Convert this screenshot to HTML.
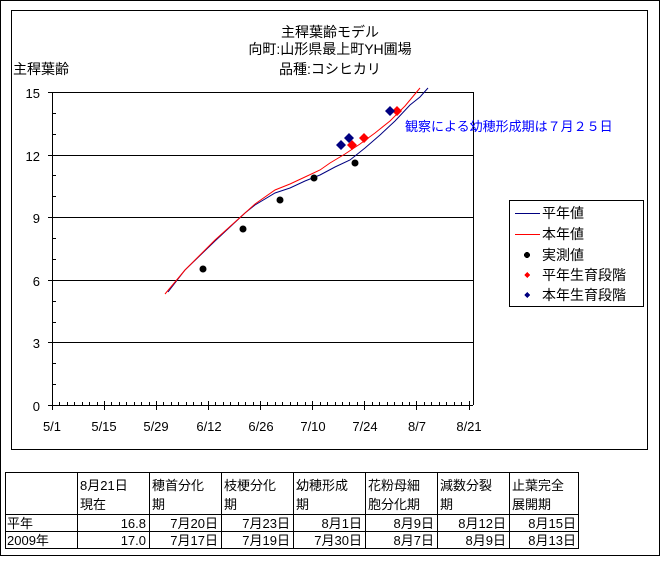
<!DOCTYPE html>
<html><head><meta charset="utf-8"><style>
body{margin:0;background:#fff;}
svg text{font-family:"Liberation Sans","Noto Sans CJK JP",sans-serif;}
</style></head><body>
<svg width="660" height="556" xmlns="http://www.w3.org/2000/svg" shape-rendering="crispEdges">
<rect x="0.5" y="0.5" width="659" height="555" fill="#fff" stroke="#000"/>
<rect x="11.5" y="10.5" width="636" height="439" fill="#fff" stroke="#000"/>
<g font-size="14" text-anchor="middle" fill="#000">
<text x="330" y="37">主稈葉齢モデル</text>
<text x="330" y="54">向町:山形県最上町YH圃場</text>
<text x="330" y="74">品種:コシヒカリ</text>
</g>
<text x="13" y="74" font-size="14">主稈葉齢</text>
<g stroke="#000">
<line x1="52" y1="92.5" x2="473" y2="92.5"/>
<line x1="52" y1="155.5" x2="473" y2="155.5"/>
<line x1="52" y1="217.5" x2="473" y2="217.5"/>
<line x1="52" y1="280.5" x2="473" y2="280.5"/>
<line x1="52" y1="342.5" x2="473" y2="342.5"/>
<line x1="52.5" y1="92" x2="52.5" y2="405"/>
<line x1="473.5" y1="92" x2="473.5" y2="405"/>
<line x1="48" y1="405.5" x2="473" y2="405.5"/>
</g>
<path stroke="#000" fill="none" d="
M52.5,401V410 M59.5,402V405 M67.5,402V405 M74.5,402V405 M82.5,402V405 M89.5,402V405 M97.5,402V405
M104.5,401V410 M111.5,402V405 M119.5,402V405 M126.5,402V405 M134.5,402V405 M141.5,402V405 M149.5,402V405
M156.5,401V410 M163.5,402V405 M171.5,402V405 M178.5,402V405 M186.5,402V405 M193.5,402V405 M201.5,402V405
M208.5,401V410 M215.5,402V405 M223.5,402V405 M230.5,402V405 M238.5,402V405 M245.5,402V405 M253.5,402V405
M260.5,401V410 M267.5,402V405 M275.5,402V405 M282.5,402V405 M290.5,402V405 M297.5,402V405 M305.5,402V405
M312.5,401V410 M320.5,402V405 M327.5,402V405 M335.5,402V405 M342.5,402V405 M349.5,402V405 M357.5,402V405
M364.5,401V410 M372.5,402V405 M379.5,402V405 M387.5,402V405 M394.5,402V405 M402.5,402V405 M409.5,402V405
M416.5,401V410 M424.5,402V405 M431.5,402V405 M439.5,402V405 M446.5,402V405 M454.5,402V405 M461.5,402V405
M469.5,401V410
M48,405.5H56 M52,384.5H56 M52,363.5H56 M48,342.5H56 M52,322.5H56 M52,301.5H56 M48,280.5H56
M52,259.5H56 M52,238.5H56 M48,217.5H56 M52,196.5H56 M52,175.5H56 M48,155.5H56 M52,134.5H56 M52,113.5H56 M48,92.5H56"/>
<g font-size="13" text-anchor="end">
<text x="40" y="98">15</text><text x="40" y="161">12</text><text x="40" y="223">9</text>
<text x="40" y="286">6</text><text x="40" y="348">3</text><text x="40" y="411">0</text>
</g>
<g font-size="13" text-anchor="middle">
<text x="52" y="431">5/1</text><text x="104" y="431">5/15</text><text x="156" y="431">5/29</text>
<text x="209" y="431">6/12</text><text x="261" y="431">6/26</text><text x="313" y="431">7/10</text>
<text x="365" y="431">7/24</text><text x="417" y="431">8/7</text><text x="469" y="431">8/21</text>
</g>
<g fill="none" shape-rendering="auto" stroke-width="1">
<polyline stroke="#000080" points="168,292 185,270 215,241 245,213 255,205 275,193 290,188 305,181 320,175 335,167 350,160 365,148 380,135 395,121 410,105 420,97 428,88"/>
<polyline stroke="#ff0000" points="165,294 185,270 215,240 245,213 255,204 275,190 290,184 305,177 320,170 330,163 345,154 360,144 375,133 390,121 405,106 420,88"/>
</g>
<g fill="#000" shape-rendering="auto">
<circle cx="203" cy="269" r="3.5"/><circle cx="243" cy="229" r="3.5"/><circle cx="280" cy="200" r="3.5"/>
<circle cx="314" cy="178" r="3.5"/><circle cx="355" cy="163" r="3.5"/>
</g>
<g shape-rendering="auto">
<path fill="#ff0000" d="M352,140l5,5l-5,5l-5,-5zM364,133l5,5l-5,5l-5,-5zM397,106l5,5l-5,5l-5,-5z"/>
<path fill="#000080" d="M341,140l5,5l-5,5l-5,-5zM349,133l5,5l-5,5l-5,-5zM390,106l5,5l-5,5l-5,-5z"/>
</g>
<text x="405" y="131" font-size="13" fill="#0000ff">観察による幼穂形成期は７月２５日</text>
<rect x="509.5" y="200.5" width="134" height="106" fill="#fff" stroke="#000"/>
<g font-size="14">
<line x1="515" y1="213.5" x2="540" y2="213.5" stroke="#000080"/><text x="542" y="218">平年値</text>
<line x1="515" y1="234.5" x2="540" y2="234.5" stroke="#ff0000"/><text x="542" y="239">本年値</text>
<circle cx="527" cy="255" r="3" fill="#000"/><text x="542" y="260">実測値</text>
<path d="M527,272l3,3l-3,3l-3,-3z" fill="#ff0000"/><text x="542" y="280">平年生育段階</text>
<path d="M527,292l3,3l-3,3l-3,-3z" fill="#000080"/><text x="542" y="300">本年生育段階</text>
</g>
<g stroke="#000">
<rect x="5.5" y="472.5" width="573" height="76" fill="none"/>
<line x1="5" y1="514.5" x2="578" y2="514.5"/><line x1="5" y1="531.5" x2="578" y2="531.5"/>
<line x1="77.5" y1="472" x2="77.5" y2="548"/><line x1="149.5" y1="472" x2="149.5" y2="548"/>
<line x1="221.5" y1="472" x2="221.5" y2="548"/><line x1="293.5" y1="472" x2="293.5" y2="548"/>
<line x1="365.5" y1="472" x2="365.5" y2="548"/><line x1="437.5" y1="472" x2="437.5" y2="548"/>
<line x1="509.5" y1="472" x2="509.5" y2="548"/>
</g>
<g font-size="13">
<text x="80" y="490">8月21日</text><text x="80" y="509">現在</text>
<text x="152" y="490">穂首分化</text><text x="152" y="509">期</text>
<text x="224" y="490">枝梗分化</text><text x="224" y="509">期</text>
<text x="296" y="490">幼穂形成</text><text x="296" y="509">期</text>
<text x="368" y="490">花粉母細</text><text x="368" y="509">胞分化期</text>
<text x="440" y="490">減数分裂</text><text x="440" y="509">期</text>
<text x="512" y="490">止葉完全</text><text x="512" y="509">展開期</text>
<text x="7" y="528">平年</text><text x="7" y="545">2009年</text>
</g>
<g font-size="13" text-anchor="end">
<text x="146" y="528">16.8</text><text x="218" y="528">7月20日</text><text x="290" y="528">7月23日</text><text x="362" y="528">8月1日</text><text x="434" y="528">8月9日</text><text x="506" y="528">8月12日</text><text x="576" y="528">8月15日</text>
<text x="146" y="545">17.0</text><text x="218" y="545">7月17日</text><text x="290" y="545">7月19日</text><text x="362" y="545">7月30日</text><text x="434" y="545">8月7日</text><text x="506" y="545">8月9日</text><text x="576" y="545">8月13日</text>
</g>
</svg>
</body></html>
